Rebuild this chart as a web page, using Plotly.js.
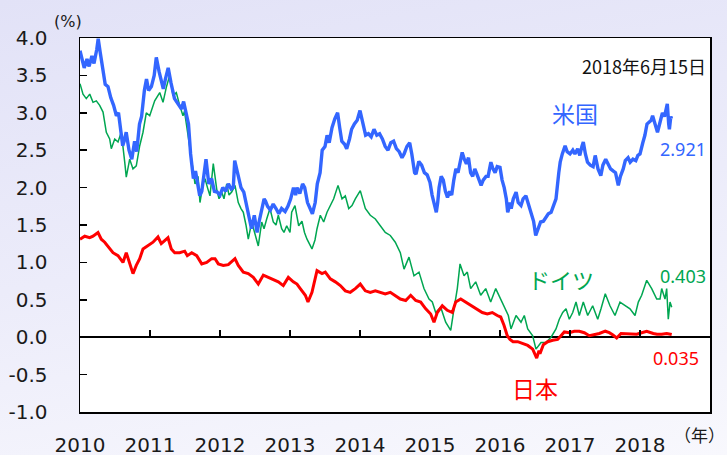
<!DOCTYPE html>
<html>
<head>
<meta charset="utf-8">
<script src="https://cdn.plot.ly/plotly-3.0.1.min.js"></script>
<style>
html,body{margin:0;padding:0;}
body{width:727px;height:455px;overflow:hidden;background:linear-gradient(170deg,#e2e2f7 0%,#ececfa 50%,#f8f8fd 100%);}
#chart{width:727px;height:455px;}
</style>
</head>
<body>
<div id="chart"></div>
<script>
// decimal-year positions and 10-year yields (%)
var usT = [2010.00,2010.03,2010.06,2010.10,2010.13,2010.17,2010.20,2010.24,2010.26,2010.29,2010.33,2010.36,2010.40,2010.44,2010.48,2010.52,2010.55,2010.58,2010.61,2010.63,2010.66,2010.70,2010.74,2010.78,2010.81,2010.85,2010.88,2010.92,2010.95,2010.98,
2011.02,2011.06,2011.09,2011.13,2011.19,2011.22,2011.26,2011.30,2011.35,2011.40,2011.45,2011.48,2011.52,2011.55,2011.58,2011.60,2011.62,2011.65,2011.68,2011.71,2011.74,2011.77,2011.80,2011.84,2011.88,2011.92,2011.96,
2012.00,2012.04,2012.08,2012.12,2012.16,2012.19,2012.21,2012.24,2012.27,2012.30,2012.34,2012.38,2012.42,2012.45,2012.49,2012.53,2012.56,2012.60,2012.63,2012.65,2012.68,2012.72,2012.76,2012.80,2012.84,2012.88,2012.93,2012.97,
2013.01,2013.05,2013.08,2013.10,2013.14,2013.18,2013.21,2013.25,2013.29,2013.32,2013.36,2013.39,2013.43,2013.46,2013.50,2013.53,2013.56,2013.60,2013.64,2013.68,2013.71,2013.74,2013.78,2013.81,2013.85,2013.88,2013.92,2013.96,
2014.00,2014.04,2014.08,2014.12,2014.16,2014.20,2014.24,2014.28,2014.32,2014.36,2014.40,2014.44,2014.48,2014.52,2014.56,2014.60,2014.63,2014.67,2014.71,2014.74,2014.78,2014.80,2014.84,2014.88,2014.92,2014.96,
2015.00,2015.03,2015.06,2015.09,2015.11,2015.13,2015.16,2015.19,2015.22,2015.25,2015.28,2015.31,2015.34,2015.37,2015.40,2015.43,2015.46,2015.49,2015.52,2015.55,2015.58,2015.61,2015.64,2015.67,2015.70,2015.73,2015.76,2015.80,2015.83,2015.87,2015.90,2015.93,2015.96,
2016.00,2016.03,2016.06,2016.09,2016.11,2016.12,2016.14,2016.16,2016.19,2016.23,2016.26,2016.30,2016.33,2016.37,2016.40,2016.44,2016.48,2016.51,2016.54,2016.58,2016.62,2016.65,2016.69,2016.73,2016.76,2016.80,2016.84,2016.86,2016.89,2016.93,2016.96,
2017.00,2017.04,2017.07,2017.11,2017.14,2017.17,2017.19,2017.22,2017.25,2017.29,2017.33,2017.36,2017.40,2017.44,2017.47,2017.51,2017.55,2017.58,2017.62,2017.65,2017.69,2017.72,2017.76,2017.79,2017.83,2017.86,2017.90,2017.94,2017.97,
2018.00,2018.04,2018.07,2018.10,2018.13,2018.16,2018.18,2018.21,2018.25,2018.28,2018.32,2018.35,2018.38,2018.39,2018.41,2018.42,2018.44,2018.45];
var usV = [3.83,3.72,3.60,3.72,3.62,3.76,3.66,3.85,3.99,3.80,3.55,3.38,3.35,3.20,3.10,2.96,3.00,2.75,2.56,2.62,2.74,2.50,2.38,2.62,2.48,2.85,2.95,3.30,3.45,3.30,
3.35,3.50,3.74,3.55,3.32,3.45,3.60,3.40,3.19,3.12,3.05,3.15,2.95,2.85,2.45,2.25,2.12,2.22,2.05,1.89,1.95,2.20,2.38,2.05,2.12,1.95,1.94,
1.90,2.00,1.95,2.05,1.98,2.00,2.36,2.25,2.10,2.00,1.94,1.75,1.55,1.45,1.63,1.40,1.55,1.75,1.85,1.82,1.75,1.70,1.78,1.72,1.65,1.72,1.68,1.75,
1.85,2.00,1.90,2.00,1.92,2.05,2.00,1.80,1.72,1.65,1.80,2.05,2.20,2.50,2.55,2.70,2.60,2.80,2.92,3.00,2.80,2.62,2.58,2.52,2.65,2.78,2.85,2.90,
3.03,2.85,2.70,2.72,2.68,2.78,2.70,2.72,2.65,2.55,2.50,2.60,2.62,2.52,2.48,2.40,2.45,2.55,2.60,2.45,2.20,2.18,2.35,2.30,2.20,2.17,
2.07,1.90,1.80,1.67,1.80,2.00,2.15,2.10,1.95,1.87,1.95,1.90,2.10,2.25,2.20,2.32,2.47,2.38,2.32,2.40,2.20,2.15,2.25,2.18,2.10,2.03,2.10,2.15,2.15,2.34,2.25,2.20,2.28,
2.27,2.10,2.00,1.85,1.67,1.70,1.80,1.72,1.85,1.94,1.80,1.76,1.85,1.89,1.80,1.67,1.55,1.36,1.45,1.54,1.55,1.60,1.65,1.67,1.75,1.85,2.20,2.34,2.45,2.56,2.48,
2.45,2.50,2.45,2.52,2.43,2.55,2.61,2.45,2.34,2.30,2.28,2.43,2.25,2.16,2.30,2.38,2.30,2.25,2.22,2.20,2.03,2.15,2.25,2.36,2.40,2.34,2.38,2.36,2.43,
2.45,2.60,2.70,2.85,2.87,2.90,2.96,2.85,2.74,2.85,3.00,2.95,3.08,3.12,2.85,2.78,2.95,2.92];

var deT = [2010.00,2010.043,2010.09,2010.139,2010.186,2010.233,2010.281,2010.329,2010.376,2010.424,2010.447,2010.496,2010.543,2010.59,2010.639,2010.661,2010.71,2010.757,2010.804,2010.853,2010.90,2010.947,2010.996,
2011.067,2011.139,2011.186,2011.233,2011.281,2011.329,2011.376,2011.424,2011.471,2011.493,2011.521,2011.543,2011.571,2011.60,2011.643,2011.686,2011.714,2011.757,2011.786,2011.821,2011.857,2011.904,2011.953,2011.986,
2012.024,2012.057,2012.096,2012.129,2012.167,2012.214,2012.261,2012.30,2012.333,2012.371,2012.404,2012.453,2012.50,2012.547,2012.596,2012.629,2012.667,2012.714,2012.761,2012.80,2012.833,2012.881,2012.914,2012.953,
2013.00,2013.024,2013.071,2013.124,2013.171,2013.207,2013.243,2013.279,2013.314,2013.357,2013.386,2013.433,2013.481,2013.529,2013.576,2013.624,2013.686,2013.743,2013.79,2013.839,2013.886,2013.933,
2014.004,2014.076,2014.147,2014.219,2014.29,2014.361,2014.433,2014.504,2014.576,2014.629,2014.70,2014.771,2014.843,2014.914,2014.986,
2015.033,2015.081,2015.153,2015.224,2015.296,2015.343,2015.39,2015.429,2015.486,2015.533,2015.581,2015.653,2015.724,2015.796,2015.867,2015.939,
2016.01,2016.081,2016.119,2016.157,2016.229,2016.30,2016.347,2016.396,2016.467,2016.514,2016.586,2016.657,2016.729,2016.80,2016.847,2016.896,2016.943,2016.99,
2017.039,2017.086,2017.133,2017.19,2017.253,2017.324,2017.396,2017.443,2017.504,2017.571,2017.643,2017.714,2017.786,2017.857,2017.929,2017.976,
2018.024,2018.096,2018.167,2018.239,2018.286,2018.31,2018.357,2018.381,2018.404,2018.429,2018.453];
var deV = [3.39,3.25,3.19,3.25,3.14,3.16,3.10,3.01,2.74,2.65,2.52,2.65,2.61,2.74,2.34,2.14,2.38,2.25,2.29,2.56,2.74,3.00,2.96,
3.16,3.27,3.14,3.34,3.50,3.23,3.27,3.10,2.96,3.02,2.80,2.70,2.52,2.30,2.05,2.15,1.80,2.05,2.12,2.00,1.89,2.32,1.98,1.85,
1.94,1.85,2.05,1.90,1.94,2.03,1.80,1.72,1.67,1.50,1.31,1.54,1.36,1.22,1.54,1.45,1.58,1.72,1.54,1.50,1.63,1.45,1.40,1.49,
1.40,1.67,1.76,1.49,1.55,1.40,1.31,1.25,1.18,1.30,1.45,1.63,1.54,1.67,1.76,1.85,2.03,1.85,1.89,1.72,1.76,1.85,
1.96,1.72,1.63,1.58,1.49,1.40,1.36,1.27,1.13,0.91,1.07,0.82,0.87,0.65,0.51,
0.47,0.33,0.40,0.20,0.09,0.38,0.65,0.98,0.82,0.87,0.65,0.74,0.56,0.65,0.47,0.65,
0.51,0.38,0.29,0.11,0.29,0.20,0.29,0.11,0.02,-0.16,-0.07,-0.07,0.00,0.11,0.24,0.33,0.38,0.24,
0.33,0.47,0.29,0.47,0.29,0.42,0.24,0.38,0.58,0.42,0.29,0.47,0.42,0.38,0.29,0.47,
0.56,0.76,0.65,0.51,0.51,0.65,0.51,0.65,0.24,0.47,0.40];

var jpT = [2010.00,2010.067,2010.139,2010.186,2010.257,2010.304,2010.353,2010.424,2010.471,2010.543,2010.614,2010.661,2010.71,2010.757,2010.804,2010.853,2010.90,2010.971,
2011.043,2011.114,2011.161,2011.21,2011.257,2011.304,2011.353,2011.424,2011.496,2011.533,2011.596,2011.667,2011.739,2011.81,2011.881,2011.929,2011.976,
2012.047,2012.119,2012.214,2012.261,2012.333,2012.404,2012.476,2012.547,2012.619,2012.69,2012.761,2012.833,2012.904,2012.976,
2013.047,2013.10,2013.147,2013.219,2013.257,2013.314,2013.386,2013.457,2013.504,2013.576,2013.647,2013.719,2013.79,2013.861,2013.933,
2014.004,2014.076,2014.147,2014.219,2014.29,2014.361,2014.433,2014.504,2014.576,2014.653,2014.724,2014.796,2014.867,2014.939,
2015.01,2015.057,2015.104,2015.176,2015.247,2015.319,2015.367,2015.439,2015.51,2015.581,2015.653,2015.747,2015.819,2015.89,2015.961,
2016.01,2016.057,2016.104,2016.143,2016.186,2016.253,2016.324,2016.396,2016.467,2016.50,2016.524,2016.557,2016.571,2016.619,2016.681,2016.753,2016.824,2016.871,2016.919,2016.99,
2017.061,2017.133,2017.204,2017.276,2017.347,2017.419,2017.504,2017.561,2017.614,2017.667,2017.729,2017.81,2017.881,2017.953,
2018.024,2018.096,2018.19,2018.243,2018.31,2018.381,2018.453];
var jpV = [1.31,1.35,1.33,1.35,1.40,1.31,1.27,1.18,1.13,1.09,1.00,1.13,1.00,0.85,0.96,1.05,1.18,1.22,
1.27,1.34,1.25,1.29,1.33,1.18,1.13,1.13,1.15,1.09,1.13,1.09,0.98,1.00,1.05,1.05,0.98,
0.96,0.97,1.05,0.96,0.87,0.85,0.80,0.71,0.83,0.80,0.78,0.74,0.69,0.80,
0.74,0.71,0.65,0.56,0.47,0.60,0.89,0.85,0.87,0.78,0.74,0.69,0.62,0.60,0.65,
0.71,0.62,0.60,0.62,0.60,0.58,0.60,0.56,0.51,0.49,0.56,0.49,0.47,0.38,
0.31,0.20,0.33,0.42,0.36,0.33,0.47,0.51,0.47,0.42,0.38,0.33,0.31,0.33,0.29,
0.27,0.16,0.02,-0.03,-0.06,-0.06,-0.08,-0.11,-0.16,-0.22,-0.28,-0.18,-0.22,-0.10,-0.06,-0.04,-0.03,0.02,0.07,0.06,
0.08,0.08,0.06,0.02,0.03,0.05,0.08,0.06,0.03,-0.01,0.05,0.05,0.04,0.04,
0.06,0.08,0.05,0.04,0.04,0.05,0.035];

var yearTicks = [2010,2011,2012,2013,2014,2015,2016,2017,2018];
var yearLabels = ['2010','2011','2012','2013','2014','2015','2016','2017','2018'];
var yTicks = [-1,-0.5,0,0.5,1,1.5,2,2.5,3,3.5,4];
var yLabels = ['-1.0','-0.5','0.0','0.5','1.0','1.5','2.0','2.5','3.0','3.5','4.0'];

var BLUE = '#3366FF', GREEN = '#00A651', RED = '#FF0000';
var cjk = '"Noto Sans CJK JP", "Noto Sans", sans-serif';
var num = '"Noto Sans", "DejaVu Sans", sans-serif';

var traces = [
  {x: jpT, y: jpV, xaxis: 'x2', type: 'scatter', mode: 'lines', line: {color: RED, width: 3}, name: '日本'},
  {x: deT, y: deV, type: 'scatter', mode: 'lines', line: {color: GREEN, width: 1.5}, name: 'ドイツ'},
  {x: usT, y: usV, type: 'scatter', mode: 'lines', line: {color: BLUE, width: 3.4}, name: '米国'}
];

function px2x(px){ return (px - 80) / 630; }
function px2y(py){ return (412.5 - py) / 374.5; }

var layout = {
  width: 727, height: 455,
  margin: {l: 80, r: 17, t: 38, b: 42.5, pad: 0},
  paper_bgcolor: 'rgba(0,0,0,0)',
  plot_bgcolor: '#ffffff',
  showlegend: false,
  hovermode: false,
  xaxis: {
    range: [2010, 2019], tickvals: yearTicks, ticktext: yearLabels,
    ticks: '', showline: true, mirror: true, linecolor: '#000', linewidth: 1.5,
    showgrid: false, zeroline: false, ticklabelstandoff: 14,
    tickfont: {family: '"DejaVu Sans", sans-serif', size: 20, color: '#1a1a1a'}
  },
  xaxis2: {
    overlaying: 'x', matches: 'x', anchor: 'free', position: 0.2,
    range: [2010, 2019], tickvals: yearTicks,
    ticks: 'inside', ticklen: 7, tickwidth: 1.5, tickcolor: '#000',
    showticklabels: false, showline: false, showgrid: false, zeroline: false
  },
  yaxis: {
    range: [-1, 4], tickvals: yTicks, ticktext: yLabels,
    ticks: 'inside', ticklen: 7, tickwidth: 1.5, tickcolor: '#000',
    showline: true, mirror: true, linecolor: '#000', linewidth: 1.5,
    showgrid: false, zeroline: true, zerolinecolor: '#000', zerolinewidth: 1.5,
    ticklabelstandoff: 27,
    tickfont: {family: '"DejaVu Sans", sans-serif', size: 20, color: '#1a1a1a'}
  },
  annotations: [
    {text: '(%)', xref: 'paper', yref: 'paper', x: px2x(68), y: px2y(21), showarrow: false, xanchor: 'center', yanchor: 'middle', font: {family: '"DejaVu Sans", sans-serif', size: 16, color: '#1a1a1a'}},
    {text: '（年）', xref: 'paper', yref: 'paper', x: px2x(726), y: px2y(435), showarrow: false, xanchor: 'right', yanchor: 'middle', borderpad: 0, font: {family: cjk, size: 17, color: '#1a1a1a'}},
    {text: '2018年6月15日', xref: 'paper', yref: 'paper', x: px2x(708), y: px2y(66), showarrow: false, xanchor: 'right', yanchor: 'middle', font: {family: cjk, size: 18, color: '#111'}},
    {text: '米国', xref: 'paper', yref: 'paper', x: px2x(575), y: px2y(113), showarrow: false, xanchor: 'center', yanchor: 'middle', font: {family: cjk, size: 23, color: BLUE}},
    {text: '2.921', xref: 'paper', yref: 'paper', x: px2x(708), y: px2y(149), showarrow: false, xanchor: 'right', yanchor: 'middle', font: {family: num, size: 18, color: BLUE}},
    {text: 'ドイツ', xref: 'paper', yref: 'paper', x: px2x(561), y: px2y(279), showarrow: false, xanchor: 'center', yanchor: 'middle', font: {family: cjk, size: 22, color: GREEN}},
    {text: '0.403', xref: 'paper', yref: 'paper', x: px2x(708), y: px2y(276), showarrow: false, xanchor: 'right', yanchor: 'middle', font: {family: num, size: 18, color: GREEN}},
    {text: '0.035', xref: 'paper', yref: 'paper', x: px2x(701), y: px2y(358), showarrow: false, xanchor: 'right', yanchor: 'middle', font: {family: num, size: 18, color: RED}},
    {text: '日本', xref: 'paper', yref: 'paper', x: px2x(535), y: px2y(388), showarrow: false, xanchor: 'center', yanchor: 'middle', font: {family: cjk, size: 23, color: RED}}
  ]
};

Plotly.newPlot('chart', traces, layout, {staticPlot: true, displayModeBar: false});
</script>
</body>
</html>
